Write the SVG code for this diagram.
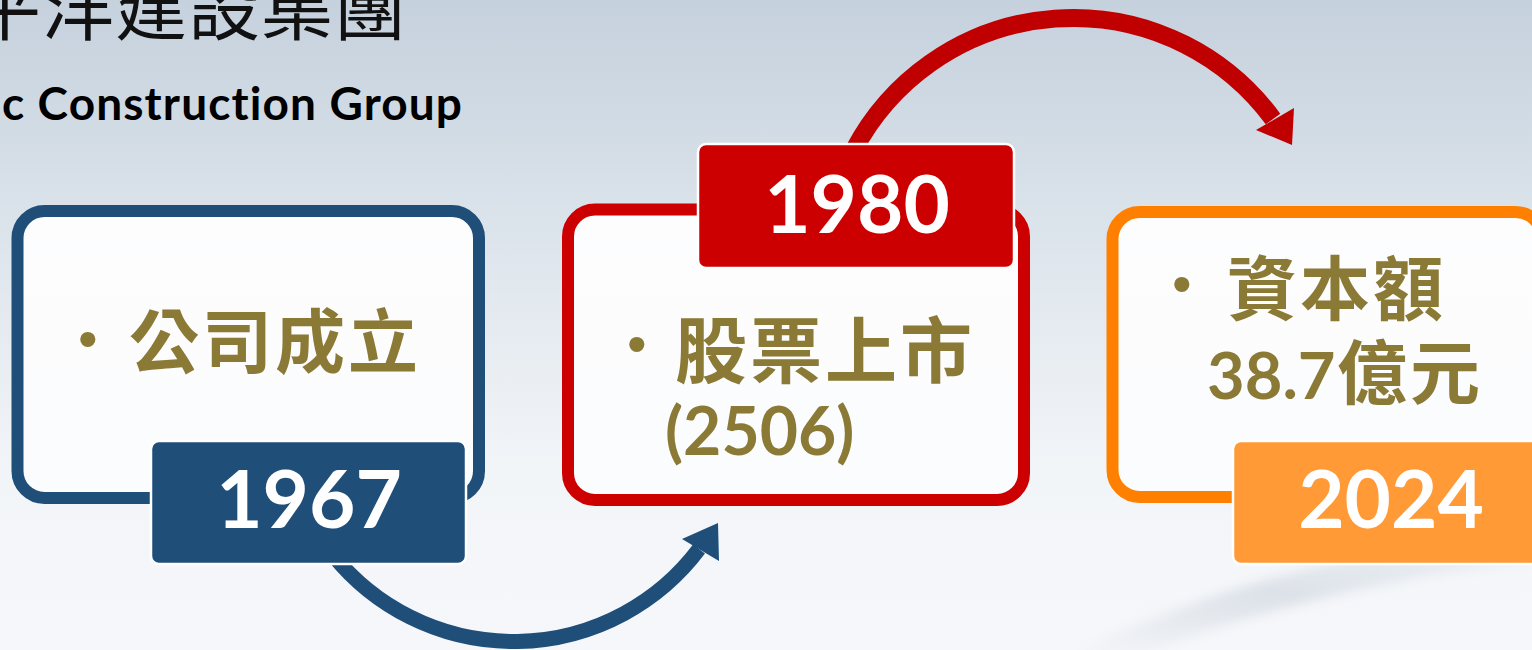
<svg xmlns="http://www.w3.org/2000/svg" width="1532" height="650" viewBox="0 0 1532 650">
  <defs>
    <linearGradient id="bg" x1="0" y1="0" x2="0" y2="1">
      <stop offset="0" stop-color="#c5d1dd"/>
      <stop offset="0.4" stop-color="#dfe6ed"/>
      <stop offset="0.72" stop-color="#f2f5f8"/>
      <stop offset="1" stop-color="#f6f7fa"/>
    </linearGradient>
    <linearGradient id="box" x1="0" y1="0" x2="0" y2="1">
      <stop offset="0" stop-color="#fdfdfe"/>
      <stop offset="1" stop-color="#fbfcfd"/>
    </linearGradient>
    <linearGradient id="swoosh" x1="0" y1="1" x2="1" y2="0">
      <stop offset="0" stop-color="#d9dfe6" stop-opacity="0"/>
      <stop offset="0.5" stop-color="#d9dfe6" stop-opacity="0.9"/>
      <stop offset="1" stop-color="#e3e8ee" stop-opacity="0.4"/>
    </linearGradient>
    <filter id="soft" x="-10%" y="-10%" width="120%" height="120%">
      <feGaussianBlur stdDeviation="6"/>
    </filter>
    <style>
      .frame { fill: url(#box); stroke-width: 12; }
      .tag { stroke: #ffffff; stroke-width: 2.5; }
      .year { font-family: Lato, "Open Sans", sans-serif; font-weight: 700; font-size: 80px; fill: #ffffff; text-anchor: middle; }
      .cjk { font-family: "Noto Sans CJK TC", "Noto Sans CJK SC", sans-serif; font-weight: 700; font-size: 70px; fill: #8b7a36; letter-spacing: 3px; }
      .num { font-family: Lato, "Open Sans", sans-serif; font-weight: 700; fill: #8b7a36; }
      .bullet { font-family: "Liberation Sans", Arial, sans-serif; font-size: 56px; fill: #8b7a36; }
      .conn { fill: none; }
    </style>
  </defs>

  <rect x="0" y="0" width="1532" height="650" fill="url(#bg)"/>
  <path d="M1060,660 C1180,600 1300,565 1420,548 L1540,540 L1540,560 C1400,575 1250,610 1130,660 Z" fill="url(#swoosh)" filter="url(#soft)"/>

  <g id="title">
    <text x="-31" y="34" font-family="'Noto Sans CJK TC', 'Noto Sans CJK SC', sans-serif" font-size="72" font-weight="400" letter-spacing="1" fill="#111111">平洋建設集團</text>
    <text x="2" y="120" font-family="Lato, 'Open Sans', sans-serif" font-size="46" font-weight="700" fill="#000000" style="font-variant-ligatures:none" textLength="460" lengthAdjust="spacing">c Construction Group</text>
  </g>

  <g id="connectors">
    <path class="conn" d="M333,555 A232,232 0 0 0 699,549" stroke="#1f4e79" stroke-width="15"/>
    <polygon points="682,539 718,523 719,561" fill="#1f4e79"/>
    <path class="conn" d="M854,150 A248,248 0 0 1 1273,119" stroke="#c00000" stroke-width="18"/>
    <polygon points="1256,130 1294,108 1292,145" fill="#c00000"/>
  </g>

  <g id="node-1967">
    <rect class="frame" x="17.5" y="211" width="461.5" height="287" rx="27" stroke="#1f4e79"/>
    <text class="bullet" x="78" y="358">•</text>
    <text class="cjk" x="129" y="368">公司成立</text>
    <rect class="tag" x="151" y="441" width="315" height="123" rx="8" fill="#1f4e79"/>
    <text class="year" x="309" y="528">1967</text>
  </g>

  <g id="node-1980">
    <rect class="frame" x="568" y="209.5" width="456" height="290.5" rx="27" stroke="#cc0000"/>
    <text class="bullet" x="627" y="363">•</text>
    <text class="cjk" x="675" y="377" style="font-size:72px">股票上市</text>
    <text class="num" x="665" y="455" font-size="66">(2506)</text>
    <rect class="tag" x="698" y="144" width="316" height="124" rx="8" fill="#cc0000"/>
    <text class="year" x="857" y="233">1980</text>
  </g>

  <g id="node-2024">
    <rect class="frame" x="1112.5" y="212" width="430" height="285" rx="27" stroke="#ff8000"/>
    <text class="bullet" x="1172" y="303">•</text>
    <text class="cjk" x="1227" y="315">資本額</text>
    <text class="num" x="1207" y="399" font-size="65">38.7</text>
    <text class="cjk" x="1337" y="399">億元</text>
    <rect class="tag" x="1233" y="441" width="320" height="123" rx="8" fill="#ff9a36"/>
    <text class="year" x="1391" y="528">2024</text>
  </g>
</svg>
